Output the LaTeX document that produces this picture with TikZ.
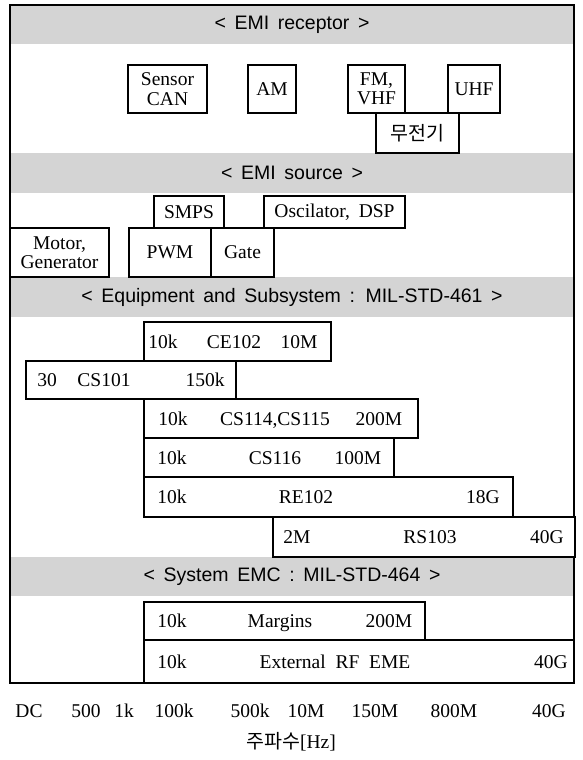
\documentclass[tikz,border=0pt]{standalone}
\usepackage{fontspec}
\setmainfont{Liberation Serif}
\newfontfamily\hdrfont[WordSpace=1.6]{Liberation Sans}
\newfontfamily\krfont{Noto Sans CJK KR}
\definecolor{hdrgray}{RGB}{212,212,212}
\tikzset{
  hdr/.style={fill=hdrgray, draw=none, inner sep=0pt, outer sep=0pt,
    minimum width=564pt, font=\hdrfont\fontsize{19.5}{22}\selectfont},
  bx/.style={draw=black, fill=white, line width=2.7pt, inner sep=0pt, outer sep=0pt,
    align=center, font=\fontsize{19.5}{19.5}\selectfont},
  txt/.style={inner sep=0pt, outer sep=0pt, font=\fontsize{19.5}{22}\selectfont,
    text height=13.5pt, text depth=0pt},
  frame/.style={draw=black, line width=1.3pt}
}
\begin{document}
\begin{tikzpicture}[x=1pt,y=-1pt]
\useasboundingbox (0,0) rectangle (582,760);
% headers
\node[hdr, minimum height=39pt] (h1) at (292,24.5) {< EMI receptor >};
\node[hdr, minimum height=40pt] (h2) at (292,173) {< EMI source >};
\node[hdr, minimum height=40pt] (h3) at (292,297) {< Equipment and Subsystem : MIL-STD-461 >};
\node[hdr, minimum height=39pt] (h4) at (292,576.5) {< System EMC : MIL-STD-464 >};
% outer frame
\node[frame, minimum width=564pt, minimum height=678pt, inner sep=0pt, outer sep=0pt] (fr) at (292,344) {};
% EMI receptor
\node[bx, minimum width=79pt, minimum height=48pt] (sensor) at (167.5,89) {Sensor\\CAN};
\node[bx, minimum width=48pt, minimum height=48pt] (am) at (272,89) {AM};
\node[bx, minimum width=57pt, minimum height=48pt] (fm) at (376.5,89) {FM,\\VHF};
\node[bx, minimum width=52pt, minimum height=48pt] (uhf) at (474,89) {UHF};
\node[bx, minimum width=83pt, minimum height=40pt, font=\krfont\fontsize{19.5}{22}\selectfont] (radio) at (417.5,133) {무전기};
% EMI source
\node[bx, minimum width=70pt, minimum height=32pt] (smps) at (189,212) {SMPS};
\node[bx, minimum width=141pt, minimum height=32pt] (osc) at (334.5,212) {Oscilator,\hspace{0.45em}DSP};
\node[bx, minimum width=99pt, minimum height=49pt] (motor) at (59.5,252.5) {Motor,\\Generator};
\node[bx, minimum width=82pt, minimum height=49pt] (pwm) at (170,252.5) {PWM};
\node[bx, minimum width=63pt, minimum height=49pt] (gate) at (242.5,252.5) {Gate};
% MIL-STD-461
\node[bx, minimum width=187pt, minimum height=39pt] (ce102) at (237.5,341.5) {};
\node[bx, minimum width=210pt, minimum height=38pt] (cs101) at (131,380) {};
\node[bx, minimum width=274pt, minimum height=39pt] (cs114) at (281,418.5) {};
\node[bx, minimum width=250pt, minimum height=39pt] (cs116) at (269,457.5) {};
\node[bx, minimum width=369pt, minimum height=40pt] (re102) at (328.5,497) {};
\node[bx, minimum width=302pt, minimum height=40pt] (rs103) at (424,537) {};
% MIL-STD-464
\node[bx, minimum width=281pt, minimum height=38pt] (marg) at (284.5,621) {};
\node[bx, minimum width=430pt, minimum height=43pt] (ext) at (359,661.5) {};
% row texts
\node[txt] (ce1) at (163,341.5) {10k};
\node[txt] (ce2) at (234,341.5) {CE102};
\node[txt] (ce3) at (299,341.5) {10M};
\node[txt] (cs1a) at (47,380) {30};
\node[txt] (cs1b) at (104,380) {CS101};
\node[txt] (cs1c) at (205,380) {150k};
\node[txt] (cs4a) at (173,418.5) {10k};
\node[txt] (cs4b) at (275,418.5) {CS114,CS115};
\node[txt] (cs4c) at (379,418.5) {200M};
\node[txt] (cs6a) at (172,457.5) {10k};
\node[txt] (cs6b) at (275,457.5) {CS116};
\node[txt] (cs6c) at (358,457.5) {100M};
\node[txt] (re2a) at (172,497) {10k};
\node[txt] (re2b) at (306,497) {RE102};
\node[txt] (re2c) at (483,497) {18G};
\node[txt] (rs3a) at (297,537) {2M};
\node[txt] (rs3b) at (430,537) {RS103};
\node[txt] (rs3c) at (547,537) {40G};
\node[txt] (mga) at (172,621) {10k};
\node[txt] (mgb) at (280,621) {Margins};
\node[txt] (mgc) at (389,621) {200M};
\node[txt] (exa) at (172,661.5) {10k};
\node[txt] (exb) at (335,661.5) {External\hspace{0.5em}RF\hspace{0.5em}EME};
\node[txt] (exc) at (551,661.5) {40G};
% axis labels
\node[txt] (l1) at (29,711) {DC};
\node[txt] (l2) at (86,711) {500};
\node[txt] (l3) at (124,711) {1k};
\node[txt] (l4) at (174,711) {100k};
\node[txt] (l5) at (250,711) {500k};
\node[txt] (l6) at (306,711) {10M};
\node[txt] (l7) at (375,711) {150M};
\node[txt] (l8) at (454,711) {800M};
\node[txt] (l9) at (549,711) {40G};
\node[txt] (axis) at (291,742) {{\krfont 주파수}[Hz]};
\end{tikzpicture}
\end{document}
